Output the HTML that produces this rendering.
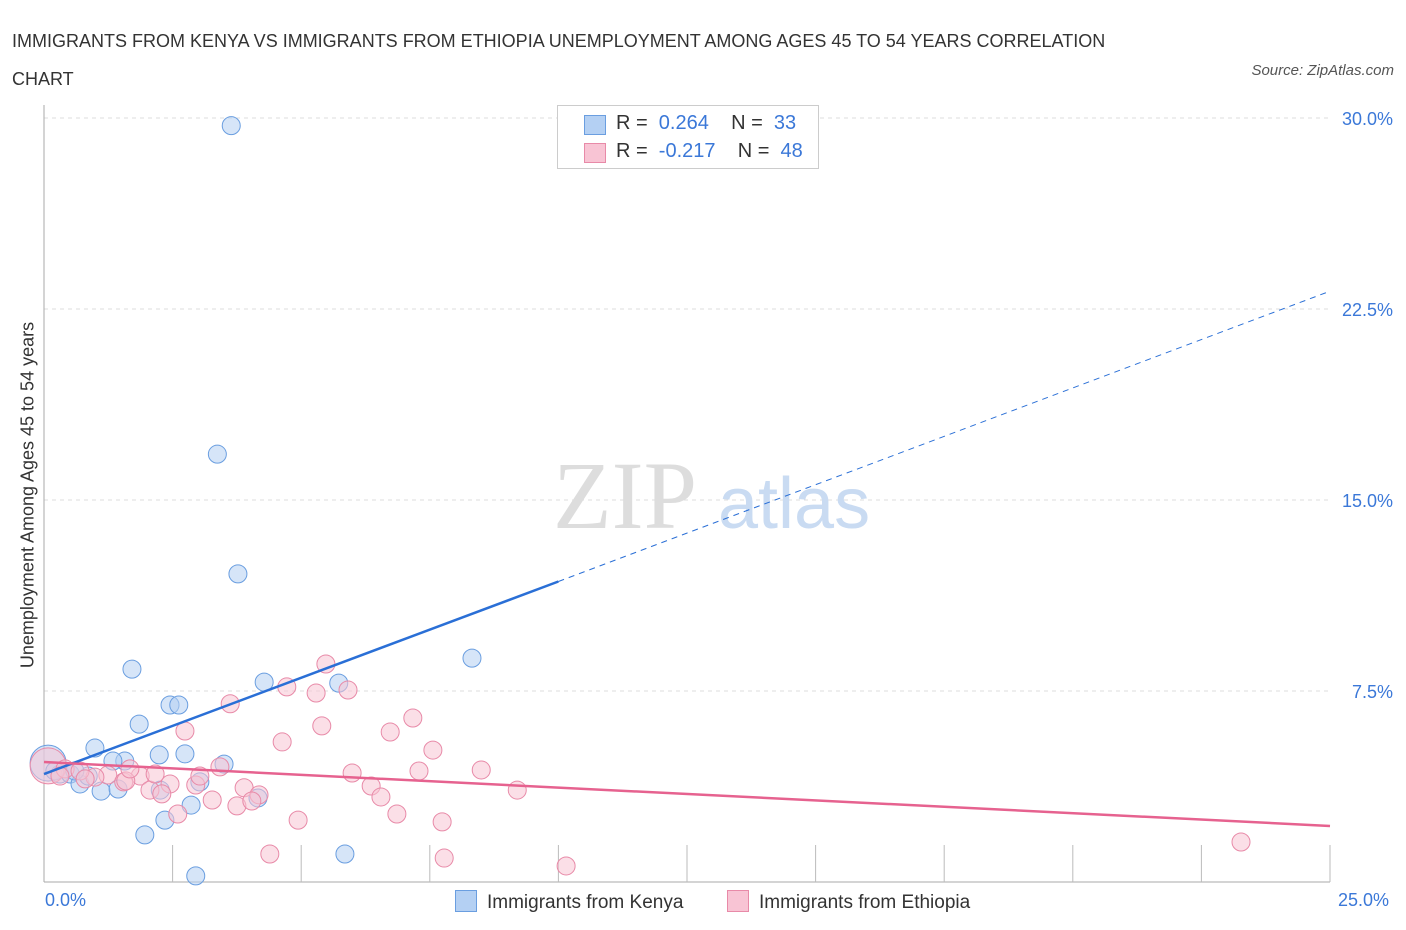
<!DOCTYPE html>
<html><head><meta charset="utf-8"><style>
body{margin:0;background:#fff;font-family:"Liberation Sans",sans-serif;}
#wrap{position:relative;width:1406px;height:930px;overflow:hidden}
.t{position:absolute;color:#333}
</style></head><body><div id="wrap">
<div class="t" style="left:12px;top:22px;font-size:18px;line-height:38px;width:1200px">IMMIGRANTS FROM KENYA VS IMMIGRANTS FROM ETHIOPIA UNEMPLOYMENT AMONG AGES 45 TO 54 YEARS CORRELATION<br>CHART</div>
<div class="t" style="right:12px;top:62px;font-size:15px;font-style:italic;color:#555">Source: ZipAtlas.com</div>
<svg id="svg" width="1406" height="930" style="position:absolute;left:0;top:0"></svg>
</div>
<script>
const yTicks=[7.5,15,22.5,30];
const yTickLabels=["7.5%","15.0%","22.5%","30.0%"];
const kenyaX=[3.64,3.37,3.77,1.71,8.32,4.28,5.73,2.45,2.62,1.85,0.99,2.24,2.74,1.57,1.34,3.5,0.08,0.31,0.51,0.7,1.11,1.44,3.03,2.26,4.16,2.86,2.35,1.96,5.85,2.95,0.21,0.86,0.6];
const kenyaY=[29.7,16.8,12.1,8.36,8.79,7.85,7.81,6.95,6.95,6.2,5.26,4.99,5.03,4.75,4.75,4.63,4.67,4.24,4.24,3.85,3.57,3.65,3.93,3.61,3.3,3.02,2.43,1.85,1.1,0.24,4.36,4.16,4.36];
const ethX=[5.48,4.72,5.29,5.91,3.62,2.74,5.4,4.63,6.73,7.17,7.56,8.5,5.99,7.29,1.24,1.87,1.55,0.99,2.45,2.06,2.95,2.29,1.59,3.89,4.18,3.27,3.75,4.04,6.36,6.55,9.2,4.94,2.6,6.86,7.74,4.39,7.78,10.15,23.27,0.08,0.41,0.7,0.31,3.42,2.16,3.03,1.67,0.8];
const ethY=[8.56,7.66,7.42,7.54,7.0,5.93,6.13,5.5,5.89,6.44,5.18,4.4,4.28,4.36,4.2,4.16,3.93,4.12,3.85,3.61,3.81,3.46,3.97,3.7,3.42,3.22,2.99,3.18,3.77,3.34,3.61,2.43,2.67,2.67,2.36,1.1,0.94,0.63,1.57,4.56,4.44,4.36,4.16,4.52,4.24,4.16,4.44,4.05];
const kenyaTrend=[[0,4.24],[10.0,11.8],[25,23.2]];
const ethTrend=[[0,4.71],[25,2.2]];
const X=v=>44+v/25*1286, Y=v=>882-v/30*764;
const svg=document.getElementById('svg');const NS='http://www.w3.org/2000/svg';
function mk(tag,attrs,parent){const e=document.createElementNS(NS,tag);for(const k in attrs)e.setAttribute(k,attrs[k]);(parent||svg).appendChild(e);return e;}
yTicks.forEach((t,i)=>{
 const g=mk('line',{x1:44,x2:1330,y1:Y(t),y2:Y(t),stroke:'#ddd','stroke-dasharray':'4,4'});
 
 
 const l=mk('text',{x:1393,y:Y(t)+7,'text-anchor':'end','font-size':18,fill:'#3b78d8'});l.textContent=yTickLabels[i];
 
 
});
const w=mk('text',{x:553,y:528,'font-size':96,fill:'#ddd','font-family':'Liberation Serif'});w.textContent='ZIP';


const w2=mk('text',{x:718,y:528,'font-size':72,fill:'#c9dbf2'});w2.textContent='atlas';


mk('line',{x1:44,x2:44,y1:105,y2:882,stroke:'#aaa'});
mk('line',{x1:44,x2:1330,y1:882,y2:882,stroke:'#aaa'});
for(let i=1;i<=10;i++){const x=44+i*128.6;mk('line',{x1:x,x2:x,y1:845,y2:882,stroke:'#bbb'});}
function dots(xs,ys,fill,stroke,name){xs.forEach((x,i)=>{const c=mk('circle',{cx:X(x),cy:Y(ys[i]),r:(x<0.2?18:9),fill:fill,'fill-opacity':0.55,stroke:stroke,'stroke-width':1});
 
 });}
dots(kenyaX,kenyaY,'#b4d0f3','#6a9ee0','kenya-point');
dots(ethX,ethY,'#f8c4d4','#e88aa8','ethiopia-point');
let a=mk('line',{x1:X(kenyaTrend[0][0]),y1:Y(kenyaTrend[0][1]),x2:X(kenyaTrend[1][0]),y2:Y(kenyaTrend[1][1]),stroke:'#2a6fd6','stroke-width':2.5});


a=mk('line',{x1:X(kenyaTrend[1][0]),y1:Y(kenyaTrend[1][1]),x2:X(kenyaTrend[2][0]),y2:Y(kenyaTrend[2][1]),stroke:'#2a6fd6','stroke-width':1,'stroke-dasharray':'6,5'});


a=mk('line',{x1:X(ethTrend[0][0]),y1:Y(ethTrend[0][1]),x2:X(ethTrend[1][0]),y2:Y(ethTrend[1][1]),stroke:'#e6628f','stroke-width':2.5});


</script>
<div class="t" style="left:28px;top:495px;font-size:18px;transform:translate(-50%,-50%) rotate(-90deg);white-space:nowrap">Unemployment Among Ages 45 to 54 years</div>
<div class="t" style="left:45px;top:890px;font-size:18px;color:#3b78d8">0.0%</div>
<div class="t" style="left:1338px;top:890px;font-size:18px;color:#3b78d8">25.0%</div>
<div style="position:absolute;left:557px;top:105px;width:260px;height:62px;border:1px solid #ccc;background:#fff;font-size:20px;color:#333">
<div style="position:absolute;left:26px;top:9px;width:20px;height:18px;background:#b4d0f3;border:1px solid #6a9ee0"></div>
<div style="position:absolute;left:58px;top:6px">R = &nbsp;<span style="color:#3b78d8">0.264</span>&nbsp;&nbsp;&nbsp; N = &nbsp;<span style="color:#3b78d8">33</span></div>
<div style="position:absolute;left:26px;top:37px;width:20px;height:18px;background:#f8c4d4;border:1px solid #e88aa8"></div>
<div style="position:absolute;left:58px;top:34px">R = &nbsp;<span style="color:#3b78d8">-0.217</span>&nbsp;&nbsp;&nbsp; N = &nbsp;<span style="color:#3b78d8">48</span></div>
</div>
<div style="position:absolute;left:455px;top:890px;font-size:19px;color:#333"><span style="display:inline-block;width:20px;height:20px;background:#b4d0f3;border:1px solid #6a9ee0;vertical-align:-4px;margin-right:10px"></span>Immigrants from Kenya</div>
<div style="position:absolute;left:727px;top:890px;font-size:19px;color:#333"><span style="display:inline-block;width:20px;height:20px;background:#f8c4d4;border:1px solid #e88aa8;vertical-align:-4px;margin-right:10px"></span>Immigrants from Ethiopia</div>
</body></html>
